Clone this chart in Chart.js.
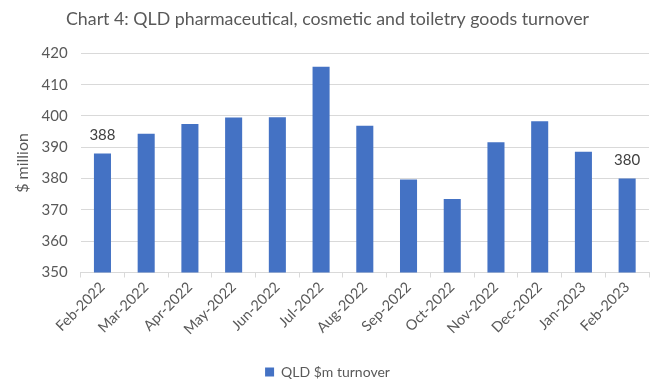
<!DOCTYPE html>
<html>
<head>
<meta charset="utf-8">
<script src="https://cdn.jsdelivr.net/npm/chart.js@4.4.1/dist/chart.umd.min.js"></script>
<style>
  html, body { margin: 0; padding: 0; background: #ffffff; }
  #wrap { width: 658px; height: 385px; }
</style>
</head>
<body>
<div id="wrap"><canvas id="chart" width="658" height="385"></canvas></div>
<script>
// Monthly turnover, $ million
const months = ['Feb-2022', 'Mar-2022', 'Apr-2022', 'May-2022', 'Jun-2022', 'Jul-2022', 'Aug-2022',
                'Sep-2022', 'Oct-2022', 'Nov-2022', 'Dec-2022', 'Jan-2023', 'Feb-2023'];
const turnover = [388, 394.3, 397.4, 399.5, 399.6, 415.7, 396.9, 379.7, 373.5, 391.6, 398.3, 388.6, 380];
// Months whose value is printed above the bar
const labelledMonths = ['Feb-2022', 'Feb-2023'];
const yTicks = [350, 360, 370, 380, 390, 400, 410, 420];

const FONT = 'Lato, "Open Sans", sans-serif';
const GREY = '#595959';
const BLUE = '#4472C4';

const valueLabels = {
  id: 'valueLabels',
  afterDatasetsDraw(chart) {
    const ctx = chart.ctx;
    const meta = chart.getDatasetMeta(0);
    ctx.save();
    ctx.font = '15px ' + FONT;
    ctx.fillStyle = '#404040';
    ctx.textAlign = 'center';
    ctx.textBaseline = 'middle';
    meta.data.forEach((bar, i) => {
      if (labelledMonths.includes(months[i])) {
        ctx.fillText(String(Math.round(turnover[i])), bar.x, bar.y - 18);
      }
    });
    ctx.restore();
  }
};

new Chart(document.getElementById('chart'), {
  type: 'bar',
  data: {
    labels: months,
    datasets: [{
      label: 'QLD $m turnover',
      data: turnover,
      backgroundColor: BLUE,
      borderWidth: 0,
      categoryPercentage: 1,
      barPercentage: 0.39
    }]
  },
  options: {
    responsive: false,
    animation: false,
    layout: { padding: { left: 6, right: 9, top: 0, bottom: -4 } },
    plugins: {
      title: {
        display: true,
        text: 'Chart 4: QLD pharmaceutical, cosmetic and toiletry goods turnover',
        color: GREY,
        font: { family: FONT, size: 17.8, weight: 'normal' },
        padding: { top: 9, bottom: 23 }
      },
      legend: {
        position: 'bottom',
        labels: {
          color: GREY,
          font: { family: FONT, size: 14 },
          boxWidth: 9,
          boxHeight: 9,
          padding: 2
        }
      },
      tooltip: { enabled: false }
    },
    scales: {
      x: {
        grid: {
          display: true,
          drawOnChartArea: false,
          drawTicks: true,
          tickLength: 5,
          offset: true,
          color: '#d9d9d9'
        },
        border: { display: true, color: '#d9d9d9' },
        ticks: {
          color: GREY,
          font: { family: FONT, size: 14.5 },
          maxRotation: 45,
          minRotation: 45,
          padding: 1
        },
        afterFit(scale) { scale.height = 90.5; }
      },
      y: {
        min: 350,
        max: 420,
        afterBuildTicks(scale) { scale.ticks = yTicks.map(v => ({ value: v })); },
        grid: { color: '#d9d9d9', drawTicks: false },
        border: { display: false },
        ticks: {
          color: GREY,
          font: { family: FONT, size: 15 },
          padding: 13
        },
        title: {
          display: true,
          text: '$ million',
          color: GREY,
          font: { family: FONT, size: 16 },
          padding: { top: 7, bottom: 0 }
        },
        afterFit(scale) { scale.width = 74.6; }
      }
    }
  },
  plugins: [valueLabels]
});
</script>
</body>
</html>
